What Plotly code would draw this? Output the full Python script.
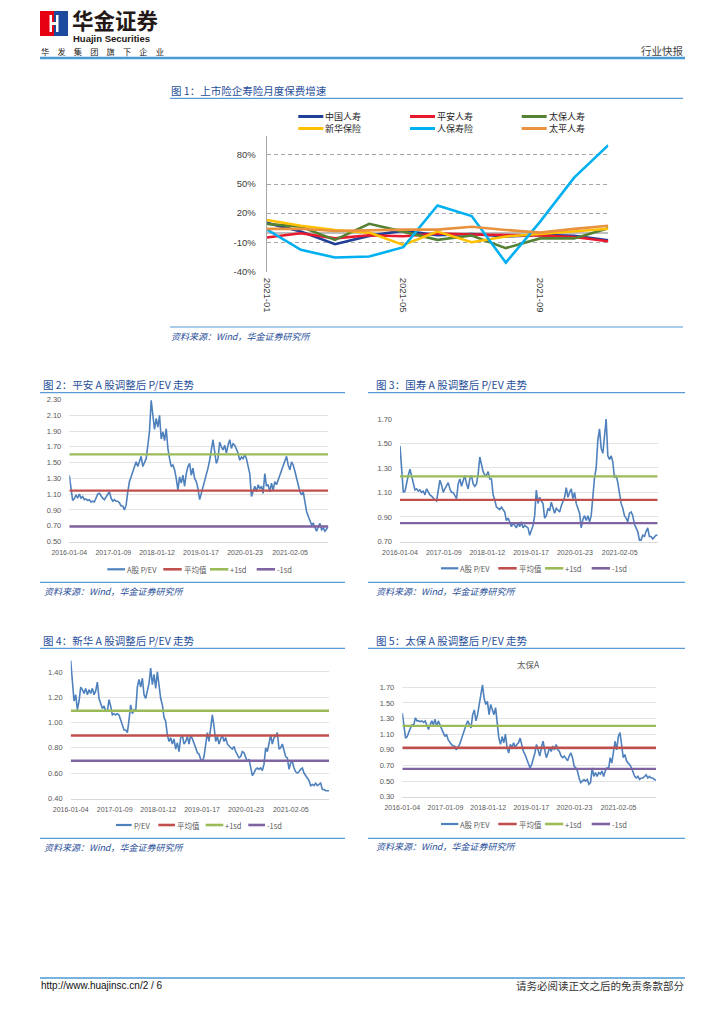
import pandas as pd
import plotly.graph_objects as go

W, H = 724, 1024

# ---------------- Chart 1 data (monthly premium growth, %) ----------------
MONTHS = ["2021-01", "2021-02", "2021-03", "2021-04", "2021-05", "2021-06",
          "2021-07", "2021-08", "2021-09", "2021-10", "2021-11"]
MONTH_TICKS = ["2021-01", "2021-05", "2021-09"]
C1_NAMES = ["中国人寿", "平安人寿", "太保人寿", "新华保险", "人保寿险", "太平人寿"]
C1_COLORS = ["#1f3f98", "#e8192c", "#548235", "#ffc000", "#00b0f0", "#e8913f"]
CHINA_LIFE = [10, 1, -12, -3.4, 2, -2.7, -1.4, -4, -2.4, -3.4, -8]
PINGAN_LIFE = [-5, -0.7, -6, -2.7, -3.8, -1, -2, -2.7, -3, -4.5, -9]
CPIC_LIFE = [9, 6, -7.5, 9, 1, -7.5, -3, -16, -6, -6, 4.5]
NCI_LIFE = [13, 7, 2.7, 0, -12.7, 1, -10, -4, -1.4, 1, 4]
PICC_LIFE = [3.4, -17.8, -25.7, -24.7, -15, 28, 17, -31, 11, 56.6, 90]
TAIPING_LIFE = [3.8, 4, 1.7, 2.7, 3, 3, 6, 2.7, 0, 3.8, 7]
C1_SERIES = [CHINA_LIFE, PINGAN_LIFE, CPIC_LIFE, NCI_LIFE, PICC_LIFE, TAIPING_LIFE]
Y1_TICKS = [-40, -10, 20, 50, 80]
Y1_LABELS = ["-40%", "-10%", "20%", "50%", "80%"]

# ---------------- P/EV charts data ----------------
DATES = pd.date_range("2016-01-04", "2021-12-24", periods=156)
TICK_DATES = ["2016-01-04", "2017-01-09", "2018-01-12", "2019-01-17", "2020-01-23", "2021-02-05"]

PINGAN_PEV = [
    1.34, 1.17, 1.02, 1.04, 1.09, 1.05, 1.10, 1.05, 1.07, 1.03,
    1.04, 1.02, 1.03, 1.00, 1.01, 1.00, 1.05, 1.10, 1.11, 1.07,
    1.05, 1.03, 1.07, 1.09, 1.13, 1.05, 1.01, 1.03, 1.01, 1.01,
    0.99, 0.95, 0.95, 0.90, 0.96, 1.13, 1.26, 1.32, 1.39, 1.45,
    1.51, 1.45, 1.53, 1.58, 1.45, 1.51, 1.55, 1.72, 1.90, 2.29,
    2.06, 1.92, 2.06, 1.95, 2.10, 1.80, 1.89, 1.78, 1.93, 1.68,
    1.55, 1.45, 1.47, 1.41, 1.30, 1.15, 1.32, 1.24, 1.34, 1.20,
    1.36, 1.45, 1.49, 1.34, 1.43, 1.30, 1.26, 1.17, 1.03, 1.11,
    1.17, 1.28, 1.34, 1.43, 1.53, 1.68, 1.79, 1.64, 1.49, 1.55,
    1.76, 1.70, 1.66, 1.72, 1.62, 1.72, 1.79, 1.68, 1.74, 1.72,
    1.68, 1.62, 1.53, 1.57, 1.55, 1.60, 1.55, 1.43, 1.36, 1.07,
    1.15, 1.20, 1.13, 1.22, 1.17, 1.20, 1.11, 1.36, 1.20, 1.22,
    1.13, 1.24, 1.15, 1.26, 1.22, 1.28, 1.34, 1.41, 1.45, 1.53,
    1.58, 1.47, 1.41, 1.51, 1.47, 1.39, 1.32, 1.22, 1.13, 1.09,
    1.13, 1.01, 0.88, 0.82, 0.77, 0.71, 0.73, 0.67, 0.63, 0.69,
    0.73, 0.65, 0.67, 0.63, 0.67, 0.69]
PINGAN_STATS = [1.145, 1.604, 0.690]   # mean, +1sd, -1sd

CHINALIFE_PEV = [
    1.48, 1.30, 1.10, 1.11, 1.19, 1.24, 1.29, 1.23, 1.16, 1.12,
    1.13, 1.11, 1.12, 1.10, 1.11, 1.08, 1.13, 1.10, 1.08, 1.07,
    1.05, 1.04, 1.03, 1.11, 1.20, 1.16, 1.10, 1.13, 1.16, 1.18,
    1.13, 1.10, 1.10, 1.08, 1.05, 1.17, 1.21, 1.15, 1.20, 1.24,
    1.17, 1.13, 1.21, 1.24, 1.17, 1.15, 1.17, 1.25, 1.39, 1.33,
    1.27, 1.24, 1.24, 1.27, 1.21, 1.21, 1.08, 1.04, 0.98, 0.97,
    0.96, 0.98, 0.96, 0.94, 0.87, 0.89, 0.86, 0.82, 0.85, 0.83,
    0.81, 0.85, 0.82, 0.86, 0.81, 0.83, 0.82, 0.81, 0.75, 0.79,
    0.83, 0.91, 1.12, 1.01, 1.06, 1.03, 1.01, 0.89, 0.91, 0.97,
    0.95, 1.02, 0.98, 0.93, 0.97, 0.95, 0.94, 0.99, 1.03, 1.06,
    1.14, 1.06, 1.10, 1.13, 1.05, 1.10, 1.01, 0.97, 0.93, 0.81,
    0.88, 0.91, 0.87, 0.91, 0.86, 0.91, 1.06, 1.22, 1.30, 1.53,
    1.62, 1.46, 1.42, 1.55, 1.70, 1.40, 1.37, 1.40, 1.35, 1.22,
    1.24, 1.18, 1.08, 1.01, 0.97, 0.91, 0.89, 0.86, 0.93, 0.94,
    0.91, 0.84, 0.81, 0.78, 0.71, 0.71, 0.75, 0.74, 0.78, 0.81,
    0.74, 0.74, 0.72, 0.74, 0.75, 0.75]
CHINALIFE_STATS = [1.039, 1.231, 0.849]

NCI_PEV = [
    1.49, 1.30, 1.17, 1.22, 1.10, 1.17, 1.28, 1.26, 1.23, 1.27,
    1.22, 1.26, 1.23, 1.27, 1.22, 1.25, 1.32, 1.19, 1.14, 1.11,
    1.13, 1.09, 1.09, 1.18, 1.13, 1.06, 1.07, 1.06, 1.07, 1.06,
    1.02, 0.97, 0.94, 0.94, 0.92, 1.02, 1.14, 1.07, 1.10, 1.09,
    1.28, 1.34, 1.28, 1.35, 1.22, 1.19, 1.25, 1.31, 1.43, 1.30,
    1.38, 1.27, 1.40, 1.28, 1.19, 1.14, 1.04, 1.01, 0.90, 0.85,
    0.88, 0.83, 0.87, 0.79, 0.84, 0.77, 0.88, 0.90, 0.83, 0.85,
    0.89, 0.83, 0.90, 0.87, 0.84, 0.80, 0.76, 0.75, 0.71, 0.69,
    0.73, 0.81, 0.92, 0.85, 0.96, 1.06, 0.97, 0.85, 0.89, 0.83,
    0.87, 0.90, 0.85, 0.88, 0.83, 0.81, 0.80, 0.79, 0.81, 0.77,
    0.75, 0.72, 0.73, 0.77, 0.76, 0.73, 0.69, 0.71, 0.64, 0.58,
    0.60, 0.63, 0.64, 0.63, 0.64, 0.62, 0.67, 0.80, 0.77, 0.84,
    0.90, 0.83, 0.88, 0.89, 0.92, 0.79, 0.80, 0.83, 0.77, 0.73,
    0.72, 0.63, 0.68, 0.69, 0.64, 0.61, 0.60, 0.61, 0.63, 0.64,
    0.60, 0.58, 0.55, 0.54, 0.50, 0.51, 0.50, 0.52, 0.50, 0.51,
    0.52, 0.47, 0.47, 0.46, 0.46, 0.46]
NCI_STATS = [0.897, 1.093, 0.697]

CPIC_PEV = [
    1.37, 1.18, 1.05, 1.07, 1.14, 1.18, 1.22, 1.22, 1.31, 1.27,
    1.27, 1.26, 1.27, 1.25, 1.27, 1.20, 1.16, 1.22, 1.27, 1.22,
    1.29, 1.20, 1.27, 1.22, 1.18, 1.12, 1.07, 1.10, 1.03, 0.99,
    0.97, 0.95, 0.95, 0.90, 0.93, 0.97, 1.03, 1.10, 1.16, 1.22,
    1.27, 1.22, 1.18, 1.35, 1.41, 1.27, 1.35, 1.48, 1.61, 1.73,
    1.56, 1.48, 1.52, 1.35, 1.48, 1.41, 1.35, 1.44, 1.27, 1.05,
    0.97, 1.07, 0.99, 1.10, 0.93, 0.86, 0.97, 0.93, 0.99, 0.93,
    0.97, 0.99, 1.05, 0.97, 0.88, 0.84, 0.78, 0.73, 0.67, 0.71,
    0.78, 0.86, 0.97, 0.88, 0.82, 0.93, 1.01, 0.90, 0.80, 0.86,
    0.93, 0.88, 0.95, 0.90, 0.97, 0.90, 0.88, 0.82, 0.80, 0.82,
    0.78, 0.76, 0.82, 0.86, 0.80, 0.69, 0.67, 0.63, 0.54, 0.48,
    0.50, 0.52, 0.50, 0.52, 0.46, 0.48, 0.67, 0.56, 0.61, 0.56,
    0.61, 0.59, 0.63, 0.56, 0.63, 0.67, 0.65, 0.80, 0.73, 0.90,
    1.01, 0.90, 1.07, 1.12, 0.97, 0.80, 0.84, 0.76, 0.73, 0.71,
    0.67, 0.61, 0.56, 0.54, 0.56, 0.52, 0.54, 0.54, 0.56, 0.58,
    0.54, 0.56, 0.54, 0.54, 0.52, 0.51]
CPIC_STATS = [0.926, 1.206, 0.657]

Y2_TICKS = [0.50, 0.70, 0.90, 1.10, 1.30, 1.50, 1.70, 1.90, 2.10, 2.30]
Y3_TICKS = [0.70, 0.90, 1.10, 1.30, 1.50, 1.70]
Y4_TICKS = [0.40, 0.60, 0.80, 1.00, 1.20, 1.40]
Y5_TICKS = [0.30, 0.50, 0.70, 0.90, 1.10, 1.30, 1.50, 1.70]

PEV_COLOR = "#4f81bd"
STAT_COLORS = ["#c0504d", "#9bbb59", "#8064a2"]
STAT_NAMES = ["平均值", "+1sd", "-1sd"]

CJK = "Noto Sans CJK SC"
LAT = "Liberation Sans, Arial"
TITLE_BLUE = "#1f4e99"
RULE_BLUE = "#5b9bd5"


def fx(x):
    return x / W


def fy(y):
    return 1 - y / H


fig = go.Figure()
shapes = []
annotations = []


def text(x, y, s, size, color="#333333", family=CJK, anchor="left", weight="normal", style="normal"):
    annotations.append(dict(
        xref="paper", yref="paper", x=fx(x), y=fy(y), text=s, showarrow=False,
        xanchor=anchor, yanchor="middle", borderpad=0,
        font=dict(family=family, size=size, color=color, weight=weight, style=style)))


def hline(x0, x1, y, color, width):
    shapes.append(dict(type="line", xref="paper", yref="paper", x0=fx(x0), x1=fx(x1),
                       y0=fy(y), y1=fy(y), line=dict(color=color, width=width)))


def rect(x0, y0, x1, y1, color):
    shapes.append(dict(type="rect", xref="paper", yref="paper", x0=fx(x0), x1=fx(x1),
                       y0=fy(y1), y1=fy(y0), fillcolor=color, line=dict(width=0), layer="above"))


# ---------------- Header ----------------
rect(40, 11, 54, 36, "#e60012")
rect(54, 11, 68, 36, "#1d4a9c")
rect(49.5, 15, 52, 32, "#ffffff")
rect(56, 15, 58.5, 32, "#ffffff")
rect(52, 22, 56, 25, "#ffffff")
text(71, 19.5, "华金证券", 21.5, "#231815", weight="bold")
text(72, 38, "Huajin Securities", 9.5, "#231815", family="Liberation Sans", weight="bold")
text(40, 50.5, "华　发　集　团　旗　下　企　业", 8.2, "#231815")
text(685, 50, "行业快报", 10.5, "#444444", anchor="right")
hline(40, 685, 58, "#4a9ad4", 2.5)

# ---------------- Chart 1 ----------------
text(170, 90, "图 1：上市险企寿险月度保费增速", 10.5, TITLE_BLUE)
hline(170, 683, 98.3, RULE_BLUE, 1.2)
for name, vals, col in zip(C1_NAMES, C1_SERIES, C1_COLORS):
    fig.add_trace(go.Scatter(x=MONTHS, y=vals, mode="lines", name=name,
                             line=dict(color=col, width=2.6), xaxis="x", yaxis="y",
                             showlegend=False))
leg1_cols = [(298.3, 323.3), (410, 435), (521.7, 546.7)]
leg1_rows = [116.5, 128.5]
for i, (name, col) in enumerate(zip(C1_NAMES, C1_COLORS)):
    x0, x1 = leg1_cols[i % 3]
    y = leg1_rows[i // 3]
    hline(x0, x1, y, col, 3)
    text(x1 + 1, y, name, 9, "#262626")
hline(170, 683, 327, RULE_BLUE, 1.2)
text(170, 336, "资料来源：Wind，华金证券研究所", 9, TITLE_BLUE, style="italic")

# ---------------- P/EV charts ----------------
pev_specs = [
    dict(ax="2", data=PINGAN_PEV, stats=PINGAN_STATS, label="A股 P/EV",
         title="图 2：平安 A 股调整后 P/EV 走势", tx=42, ty=384, rule=(40, 345, 392.7),
         leg_y=569.3, leg=[(107.3, 125), (163.3, 181.7), (210, 228.3), (256.7, 275)],
         src=(43, 591.7), srule=(40, 345, 582.3)),
    dict(ax="3", data=CHINALIFE_PEV, stats=CHINALIFE_STATS, label="A股 P/EV",
         title="图 3：国寿 A 股调整后 P/EV 走势", tx=375, ty=384, rule=(368, 685, 392.7),
         leg_y=568.3, leg=[(441, 458.3), (498.3, 516.7), (545, 563.3), (591.7, 610)],
         src=(375, 591.7), srule=(368, 685, 582.3)),
    dict(ax="4", data=NCI_PEV, stats=NCI_STATS, label="P/EV",
         title="图 4：新华 A 股调整后 P/EV 走势", tx=42, ty=640, rule=(40, 345, 648.3),
         leg_y=825, leg=[(116, 131.7), (158.3, 175), (205.7, 223.3), (248.3, 265)],
         src=(43, 847.7), srule=(40, 345, 838.3)),
    dict(ax="5", data=CPIC_PEV, stats=CPIC_STATS, label="A股 P/EV",
         title="图 5：太保 A 股调整后 P/EV 走势", tx=375, ty=640, rule=(368, 685, 648.3),
         leg_y=824, leg=[(441, 458.3), (498.3, 516.7), (545, 563.3), (591.7, 610)],
         src=(375, 846.7), srule=(368, 685, 838.3)),
]

for sp in pev_specs:
    xa, ya = "x" + sp["ax"], "y" + sp["ax"]
    fig.add_trace(go.Scatter(x=DATES, y=sp["data"], mode="lines", name=sp["label"],
                             line=dict(color=PEV_COLOR, width=1.6), xaxis=xa, yaxis=ya,
                             showlegend=False))
    for v, col, nm in zip(sp["stats"], STAT_COLORS, STAT_NAMES):
        fig.add_trace(go.Scatter(x=[DATES[0], DATES[-1]], y=[v, v], mode="lines", name=nm,
                                 line=dict(color=col, width=2.4), xaxis=xa, yaxis=ya,
                                 showlegend=False))
    text(sp["tx"], sp["ty"], sp["title"], 10.5, TITLE_BLUE)
    r = sp["rule"]
    hline(r[0], r[1], r[2], RULE_BLUE, 1.2)
    names = [sp["label"]] + STAT_NAMES
    cols = [PEV_COLOR] + STAT_COLORS
    for (x0, x1), nm, col in zip(sp["leg"], names, cols):
        hline(x0, x1, sp["leg_y"], col, 2.2 if col == PEV_COLOR else 2.6)
        text(x1 + 1, sp["leg_y"], nm, 7.5, "#595959")
    s = sp["srule"]
    hline(s[0], s[1], s[2], RULE_BLUE, 1.2)
    text(sp["src"][0], sp["src"][1], "资料来源：Wind，华金证券研究所", 9, TITLE_BLUE, style="italic")

text(528.3, 664.3, "太保A", 8.5, "#595959", anchor="center")

# ---------------- Footer ----------------
hline(40, 685, 978, "#4a9ad4", 1.5)
text(40, 985, "http://www.huajinsc.cn/2 / 6", 10, "#111111", family=LAT)
text(685, 985, "请务必阅读正文之后的免责条款部分", 10.5, "#333333", anchor="right")

# ---------------- Axes ----------------
tick_font = dict(family=LAT, size=7.5, color="#595959")
xtick_font = dict(family=LAT, size=7, color="#595959")


def pev_axes(n, xdom, ydom, yticks, yrange):
    xk, yk = "xaxis" + n, "yaxis" + n
    return {
        xk: dict(domain=[fx(xdom[0]), fx(xdom[1])], anchor="y" + n, type="date",
                 range=[DATES[0], DATES[-1]], tickvals=TICK_DATES, ticktext=TICK_DATES,
                 tickfont=xtick_font, showgrid=False, showline=True, linecolor="#d9d9d9",
                 linewidth=1, ticks="", ticklabelstandoff=4, zeroline=False, automargin=False),
        yk: dict(domain=[fy(ydom[0]), fy(ydom[1])], anchor="x" + n, range=yrange,
                 tickvals=yticks, ticktext=["%.2f" % v for v in yticks], tickfont=tick_font,
                 showgrid=True, gridcolor="#e3e3e3", gridwidth=1, zeroline=False,
                 showline=False, ticks="", ticklabelstandoff=7, automargin=False),
    }


layout_axes = {
    "xaxis": dict(domain=[fx(266.7), fx(608.3)], anchor="y", type="category",
                  categoryorder="array", categoryarray=MONTHS, tickvals=MONTH_TICKS,
                  ticktext=MONTH_TICKS, tickangle=90,
                  tickfont=dict(family=LAT, size=9.5, color="#404040"),
                  showgrid=False, showline=False, ticks="", ticklabelstandoff=5,
                  zeroline=False, automargin=False),
    "yaxis": dict(domain=[fy(271.7), fy(135.5)], anchor="x", range=[-40.3, 100],
                  tickvals=Y1_TICKS, ticktext=Y1_LABELS,
                  tickfont=dict(family=LAT, size=9.5, color="#404040"),
                  showgrid=True, gridcolor="#a6a6a6", gridwidth=1, griddash="4px,3px",
                  zeroline=True, zerolinecolor="#bfbfbf", zerolinewidth=2,
                  showline=True, linecolor="#a6a6a6", linewidth=1, ticks="",
                  ticklabelstandoff=8, automargin=False),
}
layout_axes.update(pev_axes("2", (69.3, 328.3), (541.7, 399.3), Y2_TICKS, [0.497, 2.303]))
layout_axes.update(pev_axes("3", (400, 657.7), (541.7, 418.7), Y3_TICKS, [0.697, 1.703]))
layout_axes.update(pev_axes("4", (70.7, 329), (798.7, 659.3), Y4_TICKS, [0.397, 1.5]))
layout_axes.update(pev_axes("5", (402.3, 656), (797, 682.6), Y5_TICKS, [0.297, 1.76]))

fig.update_layout(
    width=W, height=H, autosize=False,
    margin=dict(l=0, r=0, t=0, b=0, pad=0, autoexpand=False),
    paper_bgcolor="#ffffff", plot_bgcolor="#ffffff",
    showlegend=False, hovermode=False,
    font=dict(family=CJK, size=9, color="#333333"),
    shapes=shapes, annotations=annotations,
    **layout_axes,
)

fig.write_html("out.html", config={"displayModeBar": False, "staticPlot": True},
               post_script="document.body.style.margin='0px';document.body.style.overflow='hidden';")
